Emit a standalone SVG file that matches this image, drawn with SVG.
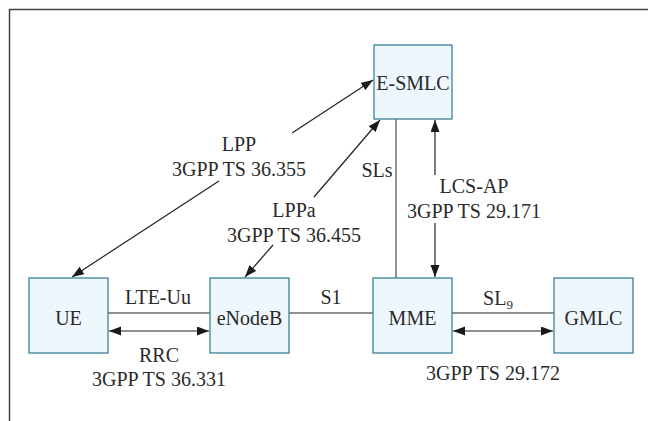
<svg xmlns="http://www.w3.org/2000/svg" width="648" height="421" viewBox="0 0 648 421">
<defs>
<style>
.box{fill:#eef7fd;stroke:#3b8297;stroke-width:1.3}
.t{font-family:'Liberation Serif',Tinos,'Times New Roman',Times,'Noto Serif','DejaVu Serif',FreeSerif,serif;font-size:20px;fill:#2a2a2a;text-anchor:middle}
.c{stroke:#222;stroke-width:1.2;fill:none}
.g{stroke:#666;stroke-width:1.4;fill:none}
.a{marker-end:url(#ah)}
.b{marker-start:url(#ah);marker-end:url(#ah)}
</style>
<marker id="ah" markerUnits="userSpaceOnUse" markerWidth="13" markerHeight="10" refX="12" refY="4.5" orient="auto-start-reverse">
<path d="M0,0 L12,4.5 L0,9 z" fill="#1a1a1a"/>
</marker>
</defs>
<rect width="648" height="421" fill="#fff"/>
<path d="M9.5 421 V9.5 H648" fill="none" stroke="#444" stroke-width="1.5"/>
<g id="connectors">
<line class="c" x1="108" y1="313" x2="210" y2="313"/>
<line class="c b" x1="109" y1="331" x2="209" y2="331"/>
<line class="c" x1="289" y1="313" x2="373" y2="313"/>
<line class="c" x1="452" y1="313" x2="554" y2="313"/>
<line class="c b" x1="453" y1="331" x2="553" y2="331"/>
<line class="g" x1="396" y1="119" x2="396" y2="278"/>
<line class="c a" x1="435" y1="175" x2="435" y2="120"/>
<line class="c a" x1="435" y1="223" x2="435" y2="277"/>
<line class="c a" x1="292" y1="133" x2="373" y2="80"/>
<line class="c a" x1="219" y1="181" x2="72" y2="277"/>
<line class="c a" x1="314" y1="197" x2="380" y2="120"/>
<line class="c a" x1="273" y1="245" x2="245" y2="277"/>
<text class="t" x="158" y="304">LTE-Uu</text>
<text class="t" x="159" y="362">RRC</text>
<text class="t" x="159" y="386">3GPP TS 36.331</text>
<text class="t" x="331" y="304">S1</text>
<text class="t" x="498" y="305">SL<tspan font-size="13" dy="4">9</tspan></text>
<text class="t" x="493" y="380">3GPP TS 29.172</text>
<text class="t" x="377" y="177">SLs</text>
<text class="t" x="474" y="193">LCS-AP</text>
<text class="t" x="474" y="218">3GPP TS 29.171</text>
<text class="t" x="239" y="151">LPP</text>
<text class="t" x="239" y="176">3GPP TS 36.355</text>
<text class="t" x="294" y="217">LPPa</text>
<text class="t" x="294" y="242">3GPP TS 36.455</text>
</g>
<g id="esmlc"><rect class="box" x="374" y="45" width="78" height="74"/><text class="t" x="413" y="90">E-SMLC</text></g>
<g id="ue"><rect class="box" x="29" y="278" width="79" height="75"/><text class="t" x="68.5" y="325">UE</text></g>
<g id="enodeb"><rect class="box" x="210" y="278" width="79" height="75"/><text class="t" x="249.5" y="325">eNodeB</text></g>
<g id="mme"><rect class="box" x="373" y="278" width="79" height="75"/><text class="t" x="412.5" y="325">MME</text></g>
<g id="gmlc"><rect class="box" x="554" y="278" width="79" height="75"/><text class="t" x="593.5" y="325">GMLC</text></g>
</svg>
